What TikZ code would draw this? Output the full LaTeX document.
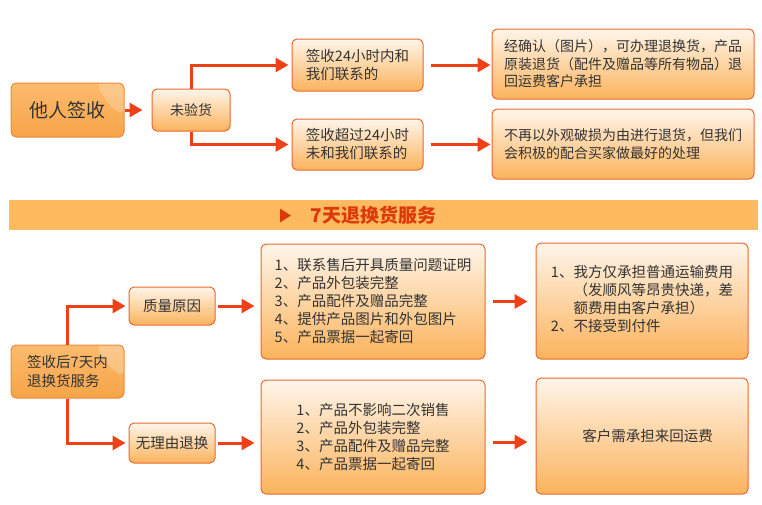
\documentclass[tikz,border=0pt]{standalone}
\usepackage{fontspec}
\setmainfont{Noto Sans CJK SC}
\usetikzlibrary{arrows.meta}
\definecolor{arrowred}{HTML}{EE4117}
\definecolor{boxborder}{HTML}{E8692F}
\definecolor{boxtop}{HTML}{FFF5EA}
\definecolor{boxbot}{HTML}{FBB35C}
\definecolor{darktop}{HTML}{FCBB6E}
\definecolor{darkbot}{HTML}{F7A447}
\definecolor{darkborder}{HTML}{EE8A3E}
\definecolor{bannerfill}{HTML}{FFB95F}
\definecolor{bannertext}{HTML}{DD3A0C}
\definecolor{txt}{HTML}{333333}
\tikzset{
  lbox/.style={draw=boxborder, line width=1pt, rounded corners=5pt,
    top color=boxtop, bottom color=boxbot, inner sep=0pt,
    text=txt, align=left, font=\fontsize{14.5}{18}\selectfont},
  dbox/.style={draw=darkborder, line width=1pt, rounded corners=5pt,
    top color=darktop, bottom color=darkbot, inner sep=0pt,
    text=txt, align=left, font=\fontsize{14.5}{19}\selectfont,
    path picture={\fill[white, opacity=0.22]
      ([xshift=-25pt]path picture bounding box.north east) --
      (path picture bounding box.north east) --
      ([yshift=-4pt]path picture bounding box.east) .. controls
      ([xshift=-15pt,yshift=2pt]path picture bounding box.east) and
      ([xshift=-25pt,yshift=-6pt]path picture bounding box.north east) ..
      cycle;}},
  arr/.style={draw=arrowred, line width=3pt,
    -{Triangle[length=13pt,width=14pt]}},
}
\begin{document}
\begin{tikzpicture}[x=1pt,y=-1pt]
\useasboundingbox[fill=white] (0,0) rectangle (762,504);

% upper part
\node[dbox, minimum width=113pt, minimum height=54pt, font=\fontsize{19}{22}\selectfont] (ta) at (67.5,110) {他人签收};
\node[lbox, minimum width=78pt, minimum height=42pt, font=\fontsize{14}{18}\selectfont] (wyh) at (191,110) {未验货};
\node[lbox, minimum width=131pt, minimum height=52pt] (b1) at (357.5,65) {签收24小时内和\\我们联系的};
\node[lbox, minimum width=131pt, minimum height=51pt] (b2) at (357.5,144.5) {签收超过24小时\\未和我们联系的};
\node[lbox, minimum width=262pt, minimum height=70pt, font=\fontsize{14}{17.5}\selectfont] (r1) at (623,64) {经确认（图片），可办理退换货，产品\\原装退货（配件及赠品等所有物品）退\\回运费客户承担};
\node[lbox, minimum width=262pt, minimum height=70pt, font=\fontsize{14}{18}\selectfont] (r2) at (623,144) {不再以外观破损为由进行退货，但我们\\会积极的配合买家做最好的处理};

\draw[arr, shorten >=9pt] (ta.east) -- (wyh.west);
\draw[arr, shorten >=3pt] (wyh.north) |- (b1.west);
\draw[arr, shorten >=3pt] (wyh.south) |- (b2.west);
\draw[arr, shorten <=7pt, shorten >=1pt] (b1.east) -- (r1.west |- b1.east);
\draw[arr, shorten <=7pt, shorten >=1pt] (b2.east) -- (r2.west |- b2.east);

% banner
\fill[bannerfill] (9,200) rectangle (758,230);
\fill[bannertext] (280,208.5) -- (291,215.5) -- (280,222.5) -- cycle;
\node[text=bannertext, font=\fontsize{19}{21}\selectfont\bfseries, inner sep=0pt] (bt) at (373.5,215.5) {7天退换货服务};

% lower part
\node[dbox, minimum width=113pt, minimum height=53pt] (s7) at (67.5,371.5) {签收后7天内\\退换货服务};
\node[lbox, minimum width=86pt, minimum height=38pt] (zl) at (172,306) {质量原因};
\node[lbox, minimum width=86pt, minimum height=40pt] (wl) at (172,443) {无理由退换};
\node[lbox, minimum width=224pt, minimum height=115pt] (l1) at (373,301.5) {1、联系售后开具质量问题证明\\2、产品外包装完整\\3、产品配件及赠品完整\\4、提供产品图片和外包图片\\5、产品票据一起寄回};
\node[lbox, minimum width=224pt, minimum height=114pt] (l2) at (373,437) {1、产品不影响二次销售\\2、产品外包装完整\\3、产品配件及赠品完整\\4、产品票据一起寄回};
\node[lbox, minimum width=212pt, minimum height=116pt] (r3) at (642,301) {\raisebox{7pt}{\begin{tabular}{@{}l@{}}1、我方仅承担普通运输费用\\\phantom{1、}（发顺风等昂贵快递，差\\\phantom{1、}额费用由客户承担）\\2、不接受到付件\end{tabular}}};
\node[lbox, minimum width=212pt, minimum height=116pt] (r4) at (642,436) {\hspace*{11pt}客户需承担来回运费};

\draw[arr, shorten >=3pt] (s7.north) |- (zl.west);
\draw[arr, shorten >=3pt] (s7.south) |- (wl.west);
\draw[arr, shorten <=2pt, shorten >=6pt] (zl.east) -- (l1.west |- zl.east);
\draw[arr, shorten <=2pt, shorten >=6pt] (wl.east) -- (l2.west |- wl.east);
\draw[arr, shorten <=7pt, shorten >=8pt] (l1.east) -- (r3.west |- l1.east);
\draw[arr, shorten <=7pt, shorten >=8pt] ([yshift=-5pt]l2.east) -- ([yshift=-5pt]r4.west |- l2.east);
\end{tikzpicture}
\end{document}
